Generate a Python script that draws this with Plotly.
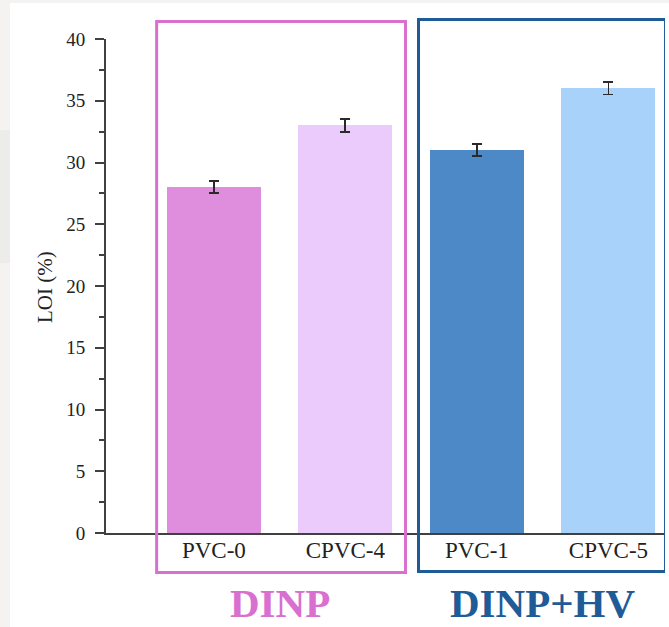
import plotly.graph_objects as go

# LOI of the PVC formulations
samples = ["PVC-0", "CPVC-4", "PVC-1", "CPVC-5"]
loi = [28.0, 33.0, 31.0, 36.0]
loi_err = [0.5, 0.5, 0.5, 0.5]
bar_colors = ["#de8edc", "#eacbfc", "#4d89c6", "#a9d2fb"]

# plasticizer groups: (label, first sample index, last sample index, colour)
groups = [
    ("DINP", 0, 1, "#d96fcf"),
    ("DINP+HV", 2, 3, "#1e5b97"),
]

y_ticks = [0, 5, 10, 15, 20, 25, 30, 35, 40]

SERIF = "Liberation Serif, Times New Roman, serif"

W, H = 669, 627
L, R, T, B = 106, 4, 39, 94
plot_w = W - L - R
plot_h = H - T - B


def px_to_xpaper(px):
    return (px - L) / plot_w


def px_to_ypaper(py):
    return (H - B - py) / plot_h


fig = go.Figure()
fig.add_trace(go.Bar(
    x=list(range(len(samples))),
    y=loi,
    width=0.714,
    marker=dict(color=bar_colors, line=dict(width=0)),
    error_y=dict(type="data", array=loi_err, visible=True,
                 color="#2a2a2a", thickness=1.8, width=5),
    showlegend=False,
))

shapes = [
    # page background and frame
    dict(type="rect", xref="paper", yref="paper", layer="below",
         x0=px_to_xpaper(0), x1=px_to_xpaper(W), y0=px_to_ypaper(H), y1=px_to_ypaper(0),
         fillcolor="#f4f3f1", line=dict(width=0)),
    dict(type="rect", xref="paper", yref="paper", layer="below",
         x0=px_to_xpaper(0), x1=px_to_xpaper(10), y0=px_to_ypaper(263), y1=px_to_ypaper(130),
         fillcolor="#ececea", line=dict(width=0)),
    dict(type="rect", xref="paper", yref="paper", layer="below",
         x0=px_to_xpaper(10), x1=px_to_xpaper(W + 5), y0=px_to_ypaper(H + 5), y1=px_to_ypaper(3),
         fillcolor="#ffffff", line=dict(width=0)),
]

annotations = []
box_pad = [(0.435, 0.457, 21.5, 572.5), (0.444, 0.434, 19.5, 571.5)]
for (label, i0, i1, col), (pl, pr, top, bot) in zip(groups, box_pad):
    shapes.append(dict(
        type="rect", xref="x", yref="paper",
        x0=i0 - pl, x1=i1 + pr,
        y0=px_to_ypaper(bot), y1=px_to_ypaper(top),
        line=dict(color=col, width=3), fillcolor="rgba(0,0,0,0)", layer="above",
    ))
    annotations.append(dict(
        x=(i0 + i1) / 2, xref="x", y=px_to_ypaper(603), yref="paper",
        text=label, showarrow=False, xanchor="center", yanchor="middle",
        font=dict(family=SERIF, size=41, color=col, weight=700),
    ))

annotations.append(dict(
    x=px_to_xpaper(45), xref="paper", y=px_to_ypaper(287), yref="paper",
    text="LOI (%)", textangle=-90, showarrow=False, xanchor="center", yanchor="middle",
    font=dict(family=SERIF, size=21, color="#222222"),
))

fig.update_layout(
    width=W, height=H,
    margin=dict(l=L, r=R, t=T, b=B, pad=0),
    paper_bgcolor="#ffffff",
    plot_bgcolor="rgba(0,0,0,0)",
    shapes=shapes,
    annotations=annotations,
    bargap=0,
    font=dict(family=SERIF, color="#222222"),
    xaxis=dict(
        range=[-0.82, 3.43],
        tickvals=list(range(len(samples))), ticktext=samples,
        showline=True, linecolor="#404040", linewidth=2,
        ticks="", showgrid=False, zeroline=False,
        tickfont=dict(family=SERIF, size=23, color="#222222"),
        ticklabelstandoff=-5,
    ),
    yaxis=dict(
        range=[0, 40],
        tickvals=y_ticks,
        showline=True, linecolor="#404040", linewidth=2,
        ticks="outside", ticklen=9, tickwidth=2, tickcolor="#404040",
        minor=dict(dtick=2.5, ticks="outside", ticklen=5, tickwidth=1.5, tickcolor="#404040"),
        showgrid=False, zeroline=False,
        tickfont=dict(family=SERIF, size=19, color="#222222"),
        ticklabelstandoff=6,
    ),
)

fig.write_html("out.html")
